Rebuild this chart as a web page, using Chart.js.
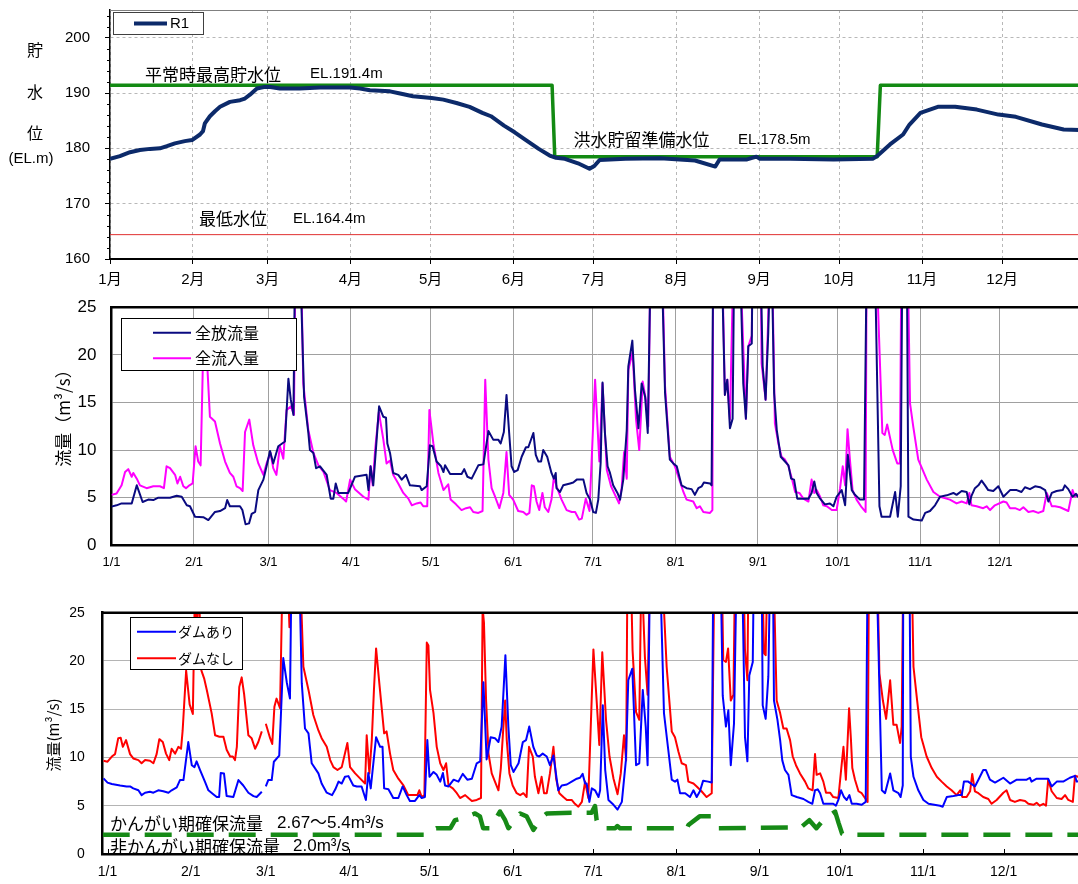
<!DOCTYPE html>
<html lang="ja">
<head>
<meta charset="utf-8">
<title>貯水位・流量</title>
<script src="https://cdn.jsdelivr.net/npm/chart.js@4.4.1/dist/chart.umd.min.js"></script>
<style>
  html, body { margin: 0; padding: 0; background: #fff; }
  body { width: 1078px; height: 884px; overflow: hidden; position: relative; }
  canvas { position: absolute; left: 0; }
</style>
</head>
<body>
<canvas id="levelChart" width="1090" height="295" style="top:0"></canvas>
<canvas id="damFlowChart" width="1090" height="290" style="top:295px"></canvas>
<canvas id="riverFlowChart" width="1090" height="299" style="top:585px"></canvas>
<script>
// ---------- calendar (day of year, 0 = 1 Jan) ----------
const monthStartDays = [0, 31, 59, 90, 120, 151, 181, 212, 243, 273, 304, 334];
const monthLabels = ['1月', '2月', '3月', '4月', '5月', '6月', '7月', '8月', '9月', '10月', '11月', '12月'];
const dateLabels = ['1/1', '2/1', '3/1', '4/1', '5/1', '6/1', '7/1', '8/1', '9/1', '10/1', '11/1', '12/1'];

// ---------- reservoir water level (EL.m) ----------
const levelTicks = [160, 170, 180, 190, 200];
const normalHighWL = 191.4;    // 平常時最高貯水位
const floodReserveWL = 178.5;  // 洪水貯留準備水位
const minimumWL = 164.4;       // 最低水位
const floodSeasonStart = [165.5, 166.5];
const floodSeasonEnd = [287.2, 288.4];

const r1Level = [
  [0,178.1],[3.7,178.6],[7.5,179.3],[11.2,179.7],[15,179.9],[18.7,180.0],[21.3,180.4],[24.3,180.9],
  [28,181.3],[30.7,181.5],[33.7,182.5],[34.8,183.1],[35.5,184.5],[37.4,185.8],[39.3,186.7],[41.2,187.5],
  [44.9,188.4],[48.7,188.7],[50.5,189.0],[52.4,189.7],[55,190.8],[58,191.1],[60,191.1],[63.6,190.8],
  [71,190.8],[78.6,191.0],[89.9,191.0],[93.6,190.8],[97.3,190.5],[104.8,190.3],[108.6,189.9],[113.4,189.4],
  [120.4,189.1],[124.8,188.8],[129.7,188.2],[134.6,187.5],[139.4,186.4],[142.6,185.8],[147.5,184.1],
  [151.5,182.9],[155.7,181.5],[160.5,179.9],[164.6,178.7],[167,178.3],[170.3,178.1],[175.2,177.3],
  [179.5,176.3],[181.3,176.8],[183.3,177.9],[193,178.1],[206,178.2],[219,177.8],[226.6,176.7],[228.2,178.0],
  [238.5,178.0],[242,178.5],[243.3,178.1],[254.6,178.1],[270.9,178.0],[285.5,178.1],[287.2,178.6],
  [292,180.7],[296.9,182.5],[299.3,184.3],[303.4,186.4],[309.9,187.5],[316.4,187.5],[324.5,187.0],
  [332.6,186.1],[339.1,185.7],[348.9,184.3],[357,183.4],[363,183.3],[365,183.2]
];

// ---------- dam outflow / inflow (m3/s) ----------
const outflowTotal = [
  [0,4.06],[1.9,4.2],[3.8,4.4],[7.6,4.4],[9.5,6.3],[11.7,4.55],[13.8,4.8],[15.7,4.75],[17.6,5.0],[22,5.0],
  [24.5,5.2],[26.4,5.1],[28.3,4.2],[29.5,4.1],[31.4,3.0],[34.5,2.95],[36.4,2.65],[38.9,3.5],[40.8,3.6],
  [42.7,3.9],[43.5,4.75],[44.5,4.1],[48.3,4.1],[49.2,3.7],[50.4,2.2],[51.7,2.3],[52.7,3.3],[54,3.5],
  [55.2,5.8],[57.1,6.9],[58.3,8.3],[59.6,9.9],[60.8,8.6],[62.7,10.4],[65.2,10.9],[66.5,17.5],[67.4,15.3],
  [68.4,13.7],[69,30],[70.9,30],[72.4,15.6],[74,11.8],[74.6,10.0],[75.9,9.7],[76.9,8.1],[78.4,8.3],
  [80.9,7.4],[82.4,4.9],[83.4,4.9],[84.3,6.5],[85.3,5.5],[89,5.5],[91.5,7.2],[95.9,7.4],[96.6,5.8],
  [97.4,8.3],[98.4,6.3],[100.6,14.6],[102.2,13.5],[103.2,13.4],[103.7,10.7],[104.7,9.7],[105.9,7.6],
  [107.8,7.4],[109.1,6.9],[110.7,7.4],[112.2,6.3],[116,6.2],[116.6,5.8],[118.5,6.2],[119.7,10.5],
  [120.7,10.4],[122.2,8.8],[123.9,8.3],[124.8,7.7],[125.4,8.4],[127.3,7.5],[131.6,7.5],[132.6,8.0],
  [133.8,7.2],[135.4,7.0],[137.9,8.4],[139.8,8.5],[141.7,12.0],[143.5,11.1],[145.4,11.1],[146.3,10.7],
  [147.5,11.9],[148.5,15.8],[149.5,11.8],[150.4,8.3],[151.4,7.7],[152.7,7.9],[154.2,9.3],[155.8,10.3],
  [156.7,10.3],[158.6,11.8],[159.5,9.5],[160.5,8.8],[161.5,8.8],[162.3,10.0],[163.8,9.3],[165.4,7.6],
  [166.3,7.0],[167,7.6],[167.3,6.0],[168.6,5.6],[169.8,6.3],[172.4,6.5],[173.6,6.6],[174.9,6.9],
  [177.4,6.9],[178.6,5.5],[179.9,4.8],[181.1,3.5],[182.1,3.4],[183,4.8],[183.9,8.7],[184.6,17.1],
  [185.5,11.8],[186.5,8.3],[187.4,7.6],[188.6,6.3],[190.2,5.5],[191.2,4.8],[192.4,6.9],[193.7,12.1],
  [194.3,18.8],[195.8,21.5],[196.8,16.3],[198.1,12.3],[199.3,17.0],[200.6,15.6],[201.6,11.8],[202.7,30],
  [206.8,30],[208.1,16.0],[209.9,9.0],[211.2,8.6],[212.5,8.3],[214.3,6.3],[216.2,6.0],[218.1,5.9],
  [219.3,5.3],[220.6,6.0],[221.9,6.2],[222.7,6.6],[225,6.5],[225.6,6.3],[226.2,30],[229.4,30],[230.6,15.8],
  [231.5,17.4],[232.5,12.3],[233.5,13.3],[234.1,30],[236.3,30],[237.5,17],[238.5,13.3],[239.4,20.9],
  [240.7,21.2],[241,30],[244,30],[244.8,18.8],[245.9,15.3],[246.9,22.3],[247.6,30],[248.2,30],[249.1,16.0],
  [250.1,12.1],[251.6,9.3],[253.2,8.8],[254.5,8.4],[255.5,7.0],[256.6,6.9],[257.8,4.9],[259.5,4.9],
  [262,4.9],[263.2,5.5],[264.2,6.7],[265.1,5.5],[266.4,4.9],[268.2,4.3],[270.1,4.4],[271.4,4.1],
  [272.6,5.1],[274.5,5.8],[275.8,4.2],[276.8,9.5],[278.3,5.8],[279.5,5.3],[281.4,4.8],[282.9,4.8],
  [283.9,30],[287,30],[288.7,4.1],[289.5,3.0],[292.7,3.0],[294.6,5.6],[295.6,3.0],[296.7,6.2],[297.3,30],
  [299,30],[299.6,3.0],[301.5,2.7],[304.6,2.6],[305.9,3.4],[307.7,3.6],[309.6,4.2],[311.5,5.1],[314,5.25],
  [316.5,5.5],[317.7,5.3],[319.6,5.7],[321.5,5.6],[322.5,4.3],[323.3,5.2],[324.6,6.0],[325.9,6.3],
  [327.1,6.8],[328.4,6.3],[329.6,5.8],[331.5,5.7],[333.4,6.2],[335.3,5.1],[337.8,5.8],[340.3,5.8],
  [342.1,5.6],[343.4,6.1],[345.3,5.9],[347.2,6.2],[349.1,6.1],[351,5.8],[352.2,4.6],[353.5,5.5],
  [355.3,5.7],[357.6,5.8],[358.4,6.3],[359.7,5.9],[361.3,5.1],[362.6,5.4],[363.3,5.1],[365,5.2]
];

const inflowTotal = [
  [0,5.3],[1.9,5.45],[3.8,6.3],[5.1,7.7],[6.3,8.0],[7.6,7.2],[8.2,7.6],[9.5,7.0],[10.7,6.3],[13.2,6.0],
  [15.7,6.2],[18.2,6.2],[19.7,6.0],[20.7,8.3],[22,8.1],[23.9,7.4],[24.8,6.5],[25.8,7.2],[27,6.2],[28,6.0],
  [29.3,6.3],[30.5,6.5],[31.6,10.4],[32.6,8.8],[33.5,8.4],[34.3,18.4],[35,22],[35.8,20],[37,13.5],
  [38.9,13.0],[40.8,10.7],[42.7,8.8],[44.5,7.6],[45.8,7.2],[47,6.2],[48.3,6.0],[49.3,5.7],[50.2,11.9],
  [51.8,13.2],[53.3,10.5],[55.2,8.6],[57.1,7.4],[58.3,8.6],[59.8,9.7],[60.8,8.1],[62,7.4],[63.3,10.4],
  [64.6,9.1],[65.8,14.2],[67.5,14.6],[68.6,13.7],[69.2,32],[71.1,32],[72.1,17.0],[74,12.1],[75.9,9.7],
  [77.8,8.4],[79.7,7.7],[82.1,5.8],[84.6,5.5],[87.1,4.9],[88.2,4.6],[89.7,6.9],[91.5,5.9],[94.7,5.1],
  [96.6,4.8],[97.4,8.3],[98.2,6.3],[99.1,10.0],[100.5,14.0],[102.2,11.1],[103.4,8.6],[104.7,8.9],
  [105.9,7.4],[107.8,6.5],[109.7,5.5],[111.6,4.9],[112.9,4.2],[114.7,4.4],[116.2,4.5],[117.2,4.1],
  [118.7,4.1],[119.5,14.2],[121,10.7],[122.9,7.6],[124.8,5.8],[126.6,6.4],[127.5,4.8],[129.5,4.3],
  [131.6,3.7],[133.3,3.9],[134.8,4.0],[136,3.5],[137.9,3.4],[139.5,3.6],[140.5,17.4],[141.7,9.0],
  [142.9,6.0],[144.2,5.1],[145.8,3.9],[147.3,5.5],[148.5,9.8],[149.5,5.3],[151,4.8],[152.9,3.6],
  [154.8,3.5],[156,3.2],[157.1,3.4],[158,6.3],[158.8,6.2],[159.8,4.6],[160.8,3.7],[162,5.5],[162.9,4.0],
  [164.2,3.5],[165.4,4.8],[166.3,7.2],[167.3,6.2],[169.2,4.8],[171.1,3.7],[173,3.5],[174.3,3.5],
  [175.8,2.7],[176.8,2.8],[178.3,4.9],[179.7,3.6],[181.8,17.4],[183.4,8.8],[184.6,17.0],[186.2,7.9],
  [187.8,6.2],[189.3,5.3],[190.8,4.4],[191.8,6.0],[192.7,9.8],[193.7,7.0],[194.3,18.4],[195.9,20.3],
  [197.2,13.2],[198.4,10.0],[199.7,17.2],[200.9,15.3],[201.8,12.5],[202.7,32],[206.8,32],[208.1,16.7],
  [209.9,9.3],[211.8,8.3],[213.1,7.2],[215,5.6],[216.2,4.8],[218.7,4.6],[220,3.9],[221.2,4.1],[222.5,3.5],
  [225,3.4],[225.9,3.7],[226.2,32],[229.4,32],[230.6,15.8],[231.5,17.4],[232.5,13.2],[233.8,30],[236.3,30],
  [238.5,13.3],[239.4,20.9],[240.7,22],[241,32],[244,32],[244.4,19.1],[245.9,15.3],[246.9,24],[247.6,32],
  [248.2,32],[249.4,12.8],[250.7,10.7],[251.9,9.3],[253.2,9.0],[254.5,8.3],[255.8,7.0],[257,5.6],
  [258.6,5.5],[260.1,4.9],[262,4.6],[263.2,6.9],[264.2,5.5],[265.1,5.8],[266.4,5.1],[267.6,4.2],
  [268.9,4.1],[270.8,3.7],[272.6,3.7],[273.9,6.0],[274.9,8.3],[275.8,6.3],[276.7,12.2],[277.6,9.0],
  [278.6,5.8],[280.1,4.8],[282,4.0],[283.5,3.5],[283.9,32],[287.3,32],[289.8,11.8],[290.7,11.6],
  [291.6,12.7],[293.7,10.0],[295.4,8.6],[296.4,8.6],[297,32],[299.2,32],[300.2,14.9],[301.4,12.5],
  [303.3,9.0],[306.5,6.9],[309,5.6],[311.5,5.1],[315.2,4.8],[317.7,4.4],[319.6,4.6],[321.5,4.4],
  [322.5,5.5],[323.3,4.2],[325.2,4.1],[327.7,3.9],[329,4.1],[330.3,3.7],[332.1,4.2],[335.3,4.6],
  [336.5,4.5],[337.8,3.9],[339.7,3.9],[341.5,3.7],[342.8,4.0],[344.7,3.5],[346.5,3.6],[348.4,3.4],
  [350.3,3.6],[351.6,5.5],[353.5,4.1],[354.7,4.1],[356.6,4.0],[359.7,3.6],[361.3,5.8],[362.2,5.1],
  [363.3,5.3],[365,5.3]
];

// ---------- river flow at the reference point (m3/s) ----------
const flowWithDam = [
  [-1.5,7.83],[0,7.4],[1.6,7.25],[4.7,7.1],[7.1,7.0],[8.4,7.0],[9.6,6.8],[11.5,6.6],[12.7,6.1],[14,6.35],
  [15.8,6.45],[17.1,6.35],[18.9,6.6],[20.8,6.5],[22.7,6.35],[23.9,6.6],[25.8,6.9],[27,7.66],[28.3,7.66],
  [30.1,11.6],[31.4,9.2],[32.4,9.0],[33.2,9.6],[34.5,8.7],[36.3,7.5],[37.6,6.6],[39.4,6.2],[40.7,5.9],
  [41.6,5.9],[42.2,8.4],[43.4,8.35],[44.4,6.0],[46.9,5.9],[48.8,7.66],[50.6,7.1],[52.5,6.35],[54.4,6.0],
  [55.6,5.9],[57.5,6.45],[58.2,null],[59,7.0],[59.9,7.66],[61.2,7.66],[62,9.56],[64,10.2],[65.5,20.3],
  [66.8,17.8],[68,16.1],[68.6,30],[71.4,30],[72.4,17.7],[73.6,13.0],[74.9,12.5],[76.1,9.4],[78.6,8.35],
  [79.8,7.3],[81.7,6.35],[83.7,6.1],[84.9,6.7],[86.1,7.5],[87.3,7.3],[88.5,8.0],[89.8,8.07],[91.6,7.1],
  [92.9,7.0],[94.7,7.0],[96.3,5.6],[97.2,8.4],[98.1,6.8],[100.1,12.1],[101.6,11.1],[102.5,11.1],[103.1,6.8],
  [104.7,6.7],[106.5,5.8],[108.4,5.8],[110,7.0],[111.5,6.1],[112.7,5.5],[114.6,5.5],[116.2,6.1],[117.1,5.8],
  [118.3,5.9],[119.2,11.8],[120,8.0],[121.5,8.5],[122.7,8.2],[124,7.5],[125,8.4],[125.8,7.1],[127.1,7.0],
  [129,7.7],[130.8,7.5],[132.4,8.3],[134.1,7.7],[135.8,7.8],[137.6,9.4],[138.9,9.6],[140.1,17.8],[141.3,9.8],
  [142.8,12.1],[144.4,12.0],[145.7,11.6],[146.9,13.2],[148.3,20.6],[149.4,13.2],[150.3,9.2],[151.3,8.5],
  [153.2,9.4],[154.8,11.6],[156,11.8],[157.2,13.2],[158.7,11.1],[160,10.2],[160.9,10.1],[162.2,10.4],
  [163.7,10.1],[164.9,9.2],[166.2,10.2],[167.2,8.2],[168,6.6],[169.3,7.1],[171.2,7.2],[173,7.5],[174.9,7.8],
  [176.1,7.9],[177.1,8.3],[178,7.3],[178.6,7.3],[179.6,5.4],[180.5,6.8],[181.7,6.6],[183,5.9],[183.6,6.6],
  [184.6,15.4],[185.5,8.7],[186.7,5.6],[188.6,5.1],[190.1,4.6],[191.7,5.4],[193.2,9.7],[194.1,18.0],
  [195.6,19.2],[197,9.2],[198.2,9.4],[199.5,17.0],[200.6,13.2],[201.3,9.2],[202.2,30],[205.9,30],[207.4,14.6],
  [209,10.8],[210.3,7.7],[211.5,7.5],[212.4,7.7],[213.4,6.3],[215.3,6.3],[217.1,5.9],[218.4,6.6],[219.6,5.9],
  [220.8,6.5],[222,7.6],[223.9,7.5],[225.2,7.4],[225.8,30],[228.5,30],[229.3,16.4],[230.5,13.2],[231.4,14.9],
  [232.3,9.2],[233.5,13.5],[234.5,30],[236.5,30],[237.6,12.1],[238.5,9.6],[239.2,18.5],[240.5,19.9],
  [240.9,30],[243.8,30],[244.2,15.4],[245.3,14.0],[246.3,18.4],[247,30],[248,30],[248.4,15.9],[249.7,13.9],
  [250.7,11.8],[251.5,9.7],[252.5,8.7],[253.8,8.2],[255,6.1],[256.9,5.9],[259.4,5.7],[261.2,5.4],[262.7,5.2],
  [263.7,6.6],[264.7,6.7],[265.6,6.3],[266.8,5.2],[268.7,5.2],[270.5,5.2],[271.5,5.0],[272.4,5.6],[273.4,6.6],
  [274.5,5.9],[275.5,5.6],[276.5,6.1],[277.4,5.2],[279.2,5.2],[281.1,5.1],[282.6,5.4],[283.3,30],[286.6,30],
  [288.6,6.6],[289.8,6.3],[291.7,8.35],[292.9,6.6],[294.8,6.3],[295.6,5.9],[296.4,7.1],[296.6,30],[298.9,30],
  [299.4,10.1],[300.4,8.0],[302.2,6.6],[304.1,5.6],[306,5.2],[310.3,5.0],[311.3,4.9],[312.8,5.9],[315.3,6.0],
  [317.1,6.1],[318.4,6.1],[319.2,7.5],[320.8,7.5],[323.3,7.0],[324.6,7.7],[326.4,8.7],[327.4,8.7],[328.9,7.7],
  [330.8,7.4],[333.9,7.9],[336.4,7.3],[338.9,7.7],[342.6,7.7],[343.8,7.9],[344.4,7.5],[346.3,7.8],[350.6,7.8],
  [351.9,7.0],[353.8,7.5],[356.2,7.5],[358.7,7.9],[360.6,8.1],[361.2,7.5],[365,7.6]
];

const flowWithoutDam = [
  [-1.5,9.66],[0,9.56],[1.6,10.1],[2.8,10.35],[4,12.0],[4.9,12.04],[5.7,11.1],[6.9,11.8],[8.4,10.35],
  [9.6,9.9],[11.5,9.73],[12.7,9.4],[14,9.73],[15.8,9.66],[17.1,9.4],[18.3,10.35],[19.3,11.9],[20.6,11.6],
  [21.8,10.4],[23,9.73],[23.9,10.9],[25.2,10.4],[26.4,11.1],[27.4,10.9],[28,12.8],[29.3,19.0],[30.6,15.5],
  [31.8,14.5],[32.6,28],[33.3,23],[34,28],[35,19],[36,18.2],[37,17.0],[38.8,14.6],[40.1,12.3],[41.7,12.15],
  [43.2,12.15],[44.4,10.8],[45.7,10.1],[46.7,10.1],[47.5,9.73],[48.2,11.1],[49.1,17.3],[50,18.3],[50.9,16.6],
  [52.5,12.3],[53.7,12.0],[55,10.9],[56.2,11.6],[57.5,12.7],[58.2,null],[59,13.5],[60.6,12.0],[61.4,11.4],
  [62.2,15.25],[63,16.1],[64.3,15.1],[65.3,30],[67,30],[67.8,23.5],[68.6,30],[71.7,30],[73,19.4],[74.9,17.0],
  [76.7,14.4],[78.6,12.8],[79.8,12.0],[81.7,11.1],[83,9.73],[84.2,9.0],[85.7,8.7],[87.3,9.0],[89.4,11.5],
  [90.4,9.0],[92.3,8.35],[94.1,7.83],[96,7.3],[96.6,12.3],[97.6,8.35],[98.5,11.8],[99.3,17.0],[100.1,21.3],
  [101.3,17.7],[103.1,12.5],[104,12.7],[105.3,10.4],[106.5,8.7],[108.4,7.8],[110.3,7.1],[112.1,6.1],[114,6.1],
  [115.5,6.1],[116.2,6.6],[117.1,5.9],[118.1,6.1],[119,21.9],[119.6,21.6],[120.2,17.0],[121.5,14.6],
  [122.7,11.1],[124,9.4],[125.2,8.7],[126.2,9.4],[127.1,7.1],[128.7,6.8],[130.2,6.3],[131.4,5.8],[133.3,6.1],
  [134.5,5.8],[135.8,5.5],[137.6,5.6],[139.2,5.8],[139.8,25.5],[140.3,24],[141.1,15.9],[142,10.4],[143.2,8.35],
  [144.4,7.5],[145.7,6.6],[146.6,8.9],[147.3,12.1],[148.2,15.9],[148.8,11.8],[149.8,8.35],[151,7.1],[152.5,6.3],
  [153.8,6.1],[155,6.3],[156.2,5.9],[157.1,11.1],[158.5,10.1],[159.3,8.0],[160.6,6.3],[161.8,8.0],[162.7,6.3],
  [163.7,6.3],[164.9,8.35],[166.2,11.1],[167.2,7.8],[168.4,6.3],[169.9,5.9],[171.2,5.6],[173,5.6],[174.2,5.2],
  [175.5,4.9],[176.8,5.4],[178,7.5],[179.2,5.8],[181.1,21.2],[182.3,15.9],[183.3,11.3],[184.4,20.9],
  [185.8,13.9],[187.1,10.1],[188.6,7.8],[190.1,6.2],[191.3,8.35],[192.5,12.3],[193.3,9.7],[193.8,30],[195,30],
  [195.7,21.1],[197,14.7],[198.2,13.9],[199,30],[200.3,20.4],[201.3,16.5],[202.2,30],[206.6,30],[208.4,19.4],
  [210.3,12.7],[211.5,12.1],[212.8,10.6],[214,9.4],[215.6,9.2],[216.5,7.5],[218.4,7.3],[219.6,7.0],
  [221.4,6.5],[223.3,5.9],[225.2,6.3],[226.2,30],[228.9,30],[229.5,20.1],[230.5,19.9],[231.3,21.3],
  [232.3,15.9],[233.3,16.5],[233.9,30],[237,30],[237.6,21.1],[238.5,18.0],[238.9,30],[244,30],[244.7,20.8],
  [245.3,20.6],[246,30],[248.2,30],[249.4,15.9],[250.7,14.6],[251.9,13.0],[253.1,13.0],[254.4,11.8],
  [255.4,10.1],[256.6,9.2],[258.1,8.35],[260,7.5],[261.2,6.8],[262.8,6.6],[263.7,10.35],[264.3,8.2],
  [265.6,8.35],[266.8,7.5],[267.8,6.35],[269.3,6.35],[270.5,5.9],[272.4,5.8],[273.3,8.35],[274.3,11.1],
  [275.2,7.7],[276.4,15.1],[277.1,11.8],[277.6,8.9],[278.6,7.7],[279.9,6.5],[281.1,6.3],[282.3,5.8],
  [283.3,5.4],[283.8,30],[286.9,30],[287.7,18.7],[289,15.9],[290.2,14.0],[291.7,18.0],[292.9,13.4],
  [294.1,13.4],[295.4,11.5],[296,13.2],[296.6,30],[299.7,30],[300.4,19.4],[301.6,16.3],[303.3,12.1],
  [305.3,10.1],[307.2,8.9],[309.1,8.0],[310.9,7.5],[312.8,7.0],[314.6,6.6],[316.5,6.1],[317.8,6.6],
  [318.6,5.9],[320.2,5.9],[321.5,6.5],[322.3,8.3],[323.3,6.5],[324.6,6.3],[326.4,5.9],[328.3,5.7],
  [329.5,5.2],[331.4,5.6],[333.9,6.35],[335.1,6.6],[336.4,5.6],[338.2,5.4],[340.1,5.6],[342,5.5],
  [343.2,5.2],[345.1,5.1],[346.3,5.3],[347.5,5.0],[348.8,5.2],[349.8,5.0],[350.6,7.7],[351.9,6.5],
  [353.8,5.8],[355.6,5.7],[356.9,6.1],[358.1,5.6],[359.8,5.4],[360.6,8.1],[361.7,8.0],[365,8.0]
];

// required maintenance flow: 2.0 outside the irrigation season, 2.67-5.4 within it
const nonIrrigationFlow = 2.0;
const irrigationFlowMin = 2.67;
const irrigationFlowMax = 5.4;
const securedFlow = [
  [-1.8,2.0],[119.5,2.0],[120.5,2.4],[122.5,2.67],[127.8,2.67],[129.5,3.5],[132.5,3.7],[137,4.2],
  [138.8,3.9],[140,2.67],[142.5,2.67],[146.3,4.4],[148.2,3.5],[149.4,2.67],[153.8,4.2],[156.2,3.9],
  [158.7,2.5],[161.2,3.5],[162.4,3.9],[163.7,4.2],[172.8,4.27],[180.4,4.27],[181.7,4.97],[182.3,3.5],
  [183.6,2.67],[189.2,2.67],[190,2.9],[191,2.67],[216,2.67],[216.5,3.0],[220.7,3.9],[225.2,3.9],
  [227.7,2.67],[258.4,2.75],[261.6,3.5],[264.2,2.67],[267.3,3.7],[271.2,4.4],[272.5,3.2],[273.8,2.1],
  [274.5,2.0],[365,2.0]
];

// ---------- drawing helpers ----------
const FONT_NUM = "'Liberation Sans', 'Noto Sans CJK JP', sans-serif";
const FONT_JP = "'Noto Sans CJK JP', 'Liberation Sans', sans-serif";

const toPoints = arr => arr.map(([x, y]) => ({ x, y }));

function strokeLine(ctx, x1, y1, x2, y2, color, width, dash) {
  ctx.save();
  ctx.strokeStyle = color;
  ctx.lineWidth = width;
  ctx.setLineDash(dash || []);
  ctx.beginPath();
  ctx.moveTo(x1, y1);
  ctx.lineTo(x2, y2);
  ctx.stroke();
  ctx.restore();
}

function drawText(ctx, str, x, y, font, align) {
  ctx.save();
  ctx.font = font;
  ctx.fillStyle = '#000';
  ctx.textAlign = align || 'left';
  ctx.textBaseline = 'middle';
  ctx.fillText(str, x, y);
  ctx.restore();
}

function drawVerticalTitle(ctx, str, cx, cy, font) {
  ctx.save();
  ctx.translate(cx, cy);
  ctx.rotate(-Math.PI / 2);
  ctx.font = font;
  ctx.fillStyle = '#000';
  ctx.textAlign = 'center';
  ctx.textBaseline = 'middle';
  ctx.fillText(str, 0, 0);
  ctx.restore();
}

function drawLegend(ctx, chart, L) {
  ctx.save();
  ctx.fillStyle = '#fff';
  ctx.fillRect(L.x, L.y, L.w, L.h);
  ctx.strokeStyle = L.frame || '#000';
  ctx.lineWidth = 1;
  ctx.strokeRect(L.x + 0.5, L.y + 0.5, L.w, L.h);
  L.items.forEach((idx, i) => {
    const ds = chart.data.datasets[idx];
    strokeLine(ctx, L.lineX1, L.rows[i], L.lineX2, L.rows[i], ds.borderColor, L.lineWidth || ds.borderWidth);
    drawText(ctx, ds.label, L.textX, L.rows[i], L.font);
  });
  ctx.restore();
}

// fixed axis footprints so the three panels share one layout
const fixWidth = w => s => { s.width = w; s.paddingTop = 0; s.paddingBottom = 0; s.paddingLeft = 0; s.paddingRight = 0; };
const fixHeight = h => s => { s.height = h; s.paddingTop = 0; s.paddingBottom = 0; s.paddingLeft = 0; s.paddingRight = 0; };
const monthTicks = s => { s.ticks = monthStartDays.map(v => ({ value: v })); };

const baseOptions = {
  responsive: false,
  animation: false,
  events: [],
  plugins: { legend: { display: false }, tooltip: { enabled: false } },
  elements: { point: { radius: 0 }, line: { tension: 0, borderJoinStyle: 'round' } }
};

// ---------- panel 1: reservoir water level ----------
const levelDecor = {
  id: 'levelDecor',
  afterDatasetsDraw(chart) {
    const { ctx, chartArea: a, scales: { x, y } } = chart;
    strokeLine(ctx, a.left, a.top + 0.5, a.right, a.top + 0.5, '#808080', 1);
    for (let v = 162; v < 205; v += 2) {
      if (v % 10 === 0) continue;
      const py = Math.round(y.getPixelForValue(v)) + 0.5;
      strokeLine(ctx, a.left - 3, py, a.left, py, '#000', 1);
    }
    const jp = `17px ${FONT_JP}`, num = `15px ${FONT_NUM}`;
    const yHigh = y.getPixelForValue(normalHighWL) - 11;
    drawText(ctx, '平常時最高貯水位', x.getPixelForValue(13.1), yHigh, jp);
    drawText(ctx, `EL.${normalHighWL}m`, x.getPixelForValue(74.9), yHigh, num);
    const yFlood = y.getPixelForValue(floodReserveWL) - 17;
    drawText(ctx, '洪水貯留準備水位', x.getPixelForValue(173.5), yFlood, jp);
    drawText(ctx, `EL.${floodReserveWL}m`, x.getPixelForValue(235.1), yFlood, num);
    const yMin = y.getPixelForValue(minimumWL) - 16;
    drawText(ctx, '最低水位', x.getPixelForValue(33.3), yMin, jp);
    drawText(ctx, `EL.${minimumWL}m`, x.getPixelForValue(68.5), yMin, num);

    ['貯', '水', '位'].forEach((ch, i) => drawText(ctx, ch, 35, [50, 92, 133][i], `16px ${FONT_JP}`, 'center'));
    drawText(ctx, '(EL.m)', 31, 159, `15px ${FONT_NUM}`, 'center');

    drawLegend(ctx, chart, {
      x: 113, y: 12, w: 90, h: 22, frame: '#404040', items: [0], rows: [23.5],
      lineX1: 134, lineX2: 167, textX: 170, font: `15px ${FONT_NUM}`
    });
  }
};

new Chart(document.getElementById('levelChart'), {
  type: 'line',
  data: {
    datasets: [
      { label: 'R1', data: toPoints(r1Level), borderColor: '#0c2a6a', borderWidth: 4, order: 0 },
      {
        label: '基準水位',
        data: toPoints([[0, normalHighWL], [floodSeasonStart[0], normalHighWL], [floodSeasonStart[1], floodReserveWL],
          [floodSeasonEnd[0], floodReserveWL], [floodSeasonEnd[1], normalHighWL], [365, normalHighWL]]),
        borderColor: '#138a13', borderWidth: 3.5, order: 1
      },
      { label: '最低水位', data: toPoints([[0, minimumWL], [365, minimumWL]]), borderColor: '#e03030', borderWidth: 1, order: 2 }
    ]
  },
  options: {
    ...baseOptions,
    layout: { autoPadding: false, padding: { left: 0, top: 10, right: 5, bottom: 0 } },
    scales: {
      x: {
        type: 'linear', min: 0, max: 365,
        afterBuildTicks: monthTicks, afterFit: fixHeight(36),
        ticks: { autoSkip: false, maxRotation: 0, minRotation: 0, padding: 7, color: '#000',
          font: { family: FONT_NUM, size: 15 }, callback: v => monthLabels[monthStartDays.indexOf(v)] },
        grid: { color: '#b8b8b8', lineWidth: 1, drawTicks: true, tickLength: 5, tickColor: '#000', tickWidth: 1, tickBorderDash: [] },
        border: { display: true, color: '#000', width: 2, dash: [3, 3] }
      },
      y: {
        type: 'linear', min: 160, max: 205,
        afterBuildTicks: s => { s.ticks = levelTicks.map(v => ({ value: v })); },
        afterFit: fixWidth(110),
        ticks: { padding: 15, color: '#000', font: { family: FONT_NUM, size: 15 } },
        grid: { color: '#b8b8b8', lineWidth: 1, drawTicks: true, tickLength: 5, tickColor: '#000', tickWidth: 1, tickBorderDash: [] },
        border: { display: true, color: '#000', width: 1.5, dash: [3, 3] }
      }
    }
  },
  plugins: [levelDecor]
});

// ---------- panel 2: dam inflow / outflow ----------
const damFlowDecor = {
  id: 'damFlowDecor',
  afterDatasetsDraw(chart) {
    const { ctx, chartArea: a } = chart;
    strokeLine(ctx, a.left - 1, a.top, a.right, a.top, '#000', 2.5);
    drawVerticalTitle(ctx, '流量（m³/s）', 63.5, 119, `17px ${FONT_JP}`);
    drawLegend(ctx, chart, {
      x: 121, y: 23, w: 175, h: 52, items: [0, 1], rows: [37.7, 63.3],
      lineX1: 153, lineX2: 191, textX: 195, font: `16px ${FONT_JP}`
    });
  }
};

new Chart(document.getElementById('damFlowChart'), {
  type: 'line',
  data: {
    datasets: [
      { label: '全放流量', data: toPoints(outflowTotal), borderColor: '#0a0a80', borderWidth: 2 },
      { label: '全流入量', data: toPoints(inflowTotal), borderColor: '#ff00ff', borderWidth: 2 }
    ]
  },
  options: {
    ...baseOptions,
    layout: { autoPadding: false, padding: { left: 0, top: 12.3, right: 7.6, bottom: 0 } },
    scales: {
      x: {
        type: 'linear', min: 0, max: 365,
        afterBuildTicks: monthTicks, afterFit: fixHeight(39.7),
        ticks: { autoSkip: false, maxRotation: 0, minRotation: 0, padding: 9, color: '#000',
          font: { family: FONT_NUM, size: 13 }, callback: v => dateLabels[monthStartDays.indexOf(v)] },
        grid: { color: '#a0a0a0', lineWidth: 1, drawTicks: false },
        border: { display: true, color: '#000', width: 2.5 }
      },
      y: {
        type: 'linear', min: 0, max: 25,
        afterFit: fixWidth(111.5),
        ticks: { stepSize: 5, padding: 15, color: '#000', font: { family: FONT_NUM, size: 17 } },
        grid: { color: '#a0a0a0', lineWidth: 1, drawTicks: false },
        border: { display: true, color: '#000', width: 2.5 }
      }
    }
  },
  plugins: [damFlowDecor]
});

// ---------- panel 3: river flow with / without the dam ----------
const riverFlowDecor = {
  id: 'riverFlowDecor',
  afterDatasetsDraw(chart) {
    const { ctx, chartArea: a, scales: { x } } = chart;
    strokeLine(ctx, a.left - 1, a.top, a.right, a.top, '#000', 2.5);
    monthStartDays.forEach(d => {
      const px = Math.round(x.getPixelForValue(d)) + 0.5;
      strokeLine(ctx, px, a.bottom, px, a.bottom - 5, '#000', 1);
    });
    const jp = `17px ${FONT_JP}`, num = `17px ${FONT_NUM}`;
    drawText(ctx, 'かんがい期確保流量', 110, 238.3, jp);
    drawText(ctx, `${irrigationFlowMin}〜${irrigationFlowMax}m³/s`, 277, 238.3, num);
    drawText(ctx, '非かんがい期確保流量', 110, 261.7, jp);
    drawText(ctx, `${nonIrrigationFlow.toFixed(1)}m³/s`, 293, 261.7, num);
    drawVerticalTitle(ctx, '流量(m³/s)', 53.5, 150, `15px ${FONT_JP}`);
    drawLegend(ctx, chart, {
      x: 130, y: 32, w: 112, h: 52, items: [0, 1], rows: [46.7, 73.3],
      lineX1: 137, lineX2: 176, textX: 178, font: `14px ${FONT_JP}`
    });
  }
};

new Chart(document.getElementById('riverFlowChart'), {
  type: 'line',
  data: {
    datasets: [
      { label: 'ダムあり', data: toPoints(flowWithDam), borderColor: '#0000ff', borderWidth: 2, spanGaps: false },
      { label: 'ダムなし', data: toPoints(flowWithoutDam), borderColor: '#ff0000', borderWidth: 2, spanGaps: false },
      { label: '確保流量', data: toPoints(securedFlow), borderColor: '#168a16', borderWidth: 4.5,
        borderDash: [27, 15], borderCapStyle: 'butt' }
    ]
  },
  options: {
    ...baseOptions,
    layout: { autoPadding: false, padding: { left: 0, top: 27.7, right: 3.2, bottom: 0 } },
    scales: {
      x: {
        type: 'linear', min: -1.8, max: 365,
        afterBuildTicks: monthTicks, afterFit: fixHeight(30),
        ticks: { autoSkip: false, maxRotation: 0, minRotation: 0, padding: 10, color: '#000',
          font: { family: FONT_NUM, size: 14 }, callback: v => dateLabels[monthStartDays.indexOf(v)] },
        grid: { display: false, drawTicks: false },
        border: { display: true, color: '#000', width: 2.5 }
      },
      y: {
        type: 'linear', min: 0, max: 25,
        afterFit: fixWidth(102.7),
        ticks: { stepSize: 5, padding: 18, color: '#000', font: { family: FONT_NUM, size: 14 } },
        grid: { color: '#b4b4b4', lineWidth: 1, drawTicks: false },
        border: { display: true, color: '#000', width: 2.5 }
      }
    }
  },
  plugins: [riverFlowDecor]
});
</script>
</body>
</html>
